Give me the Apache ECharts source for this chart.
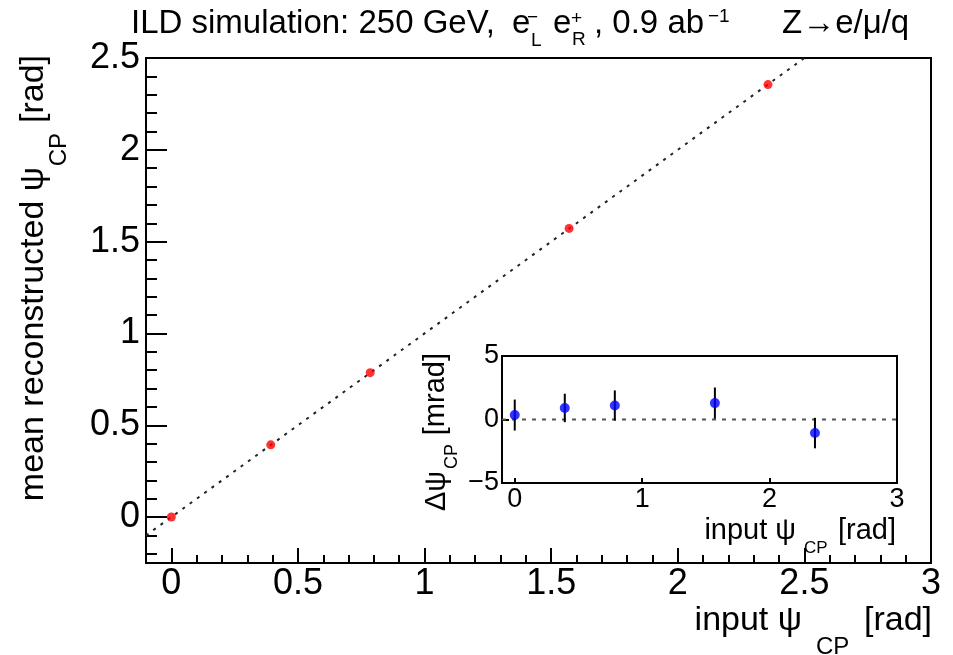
<!DOCTYPE html>
<html>
<head>
<meta charset="utf-8">
<script src="https://cdn.jsdelivr.net/npm/echarts@6/dist/echarts.min.js"></script>
<style>
  html, body { margin: 0; padding: 0; background: #fff; }
  #chart { width: 953px; height: 655px; }
</style>
</head>
<body>
<div id="chart"></div>
<script>
// Input CP-mixing angles (rad) and mean reconstructed values (rad)
const psiIn = [0, 0.3927, 0.7854, 1.5708, 2.3562];
const psiRecoMean = [0.0004, 0.3936, 0.7865, 1.5721, 2.3551];

// Residuals (reco - input) in mrad, with their uncertainties
const deltaPsi = [0.35, 0.91, 1.10, 1.29, -1.07];
const deltaErr = [1.22, 1.12, 1.19, 1.23, 1.20];

// Reference lines: diagonal y = x and zero residual
const diagX = [-0.1, 2.5];
const diagY = [-0.1, 2.5];
const zeroX = [-0.1, 3];
const zeroY = [0, 0];

// Tick positions
const mainXMajor = [0, 0.5, 1, 1.5, 2, 2.5, 3];
const mainXMinor = [-0.1, 0.1, 0.2, 0.3, 0.4, 0.6, 0.7, 0.8, 0.9, 1.1, 1.2, 1.3, 1.4,
  1.6, 1.7, 1.8, 1.9, 2.1, 2.2, 2.3, 2.4, 2.6, 2.7, 2.8, 2.9];
const mainYMajor = [0, 0.5, 1, 1.5, 2, 2.5];
const mainYMinor = [-0.2, -0.1, 0.1, 0.2, 0.3, 0.4, 0.6, 0.7, 0.8, 0.9, 1.1, 1.2, 1.3, 1.4,
  1.6, 1.7, 1.8, 1.9, 2.1, 2.2, 2.3, 2.4];
const insetXMajor = [0, 1, 2, 3];
const insetYMajor = [-5, 0, 5];

const FONT = '"Liberation Sans", Arial, Helvetica, sans-serif';
const fmt = v => String(v).replace('-', '\u2212');

function txt(text, x, y, size, align, rot) {
  return {
    type: 'text', x: x, y: y, rotation: rot || 0, z: 100,
    style: {
      text: text, fontSize: size, fontFamily: FONT, fill: '#000',
      align: align, textAlign: align,
      verticalAlign: 'middle', textVerticalAlign: 'middle'
    }
  };
}

const R = Math.PI / 2;
const titleParts = [
  // header line
  txt('ILD simulation: 250 GeV,', 131, 24, 33, 'left'),
  txt('e', 512, 24, 33, 'left'),
  txt('\u2212', 527, 18, 19, 'left'),
  txt('L', 531, 41, 19, 'left'),
  txt('e', 553, 24, 33, 'left'),
  txt('+', 571, 19, 19, 'left'),
  txt('R', 572, 40, 19, 'left'),
  txt(', 0.9 ab', 594, 24, 33, 'left'),
  txt('\u22121', 708, 17, 19, 'left'),
  txt('Z\u2192e/\u03bc/q', 782, 24, 33, 'left'),
  // main x title
  txt('input \u03c8', 802, 621, 34, 'right'),
  txt('CP', 816, 647, 24, 'left'),
  txt('[rad]', 932, 621, 34, 'right'),
  // main y title (rotated, reading upwards)
  txt('[rad]', 34, 55, 34, 'right', R),
  txt('CP', 59, 133, 24, 'right', R),
  txt('mean reconstructed \u03c8', 34, 167, 34, 'right', R),
  // inset x title
  txt('input \u03c8', 796, 531, 29, 'right'),
  txt('CP', 804, 548, 17, 'left'),
  txt('[rad]', 896, 531, 29, 'right'),
  // inset y title (rotated)
  txt('[mrad]', 436, 353, 29, 'right', R),
  txt('CP', 452, 444, 18, 'right', R),
  txt('\u0394\u03c8', 437, 471, 29, 'right', R)
];

function valueAxis(extra) {
  return Object.assign({
    type: 'value',
    axisLine: { show: true, onZero: false, lineStyle: { color: '#000', width: 2 } },
    splitLine: { show: false }
  }, extra);
}

const option = {
  animation: false,
  backgroundColor: '#fff',
  grid: [
    { left: 146, top: 58, width: 785, height: 505, show: true, borderColor: '#000', borderWidth: 2, backgroundColor: 'transparent' },
    { left: 502, top: 356, width: 395, height: 127, show: true, borderColor: '#000', borderWidth: 2, backgroundColor: 'transparent' }
  ],
  xAxis: [
    valueAxis({ gridIndex: 0, position: 'bottom', min: -0.1, max: 3,
      axisTick: { show: true, inside: true, length: 15, customValues: mainXMajor, lineStyle: { color: '#000', width: 2 } },
      axisLabel: { show: true, margin: 3, customValues: mainXMajor, formatter: fmt, fontSize: 36, fontFamily: FONT, color: '#000' } }),
    valueAxis({ gridIndex: 0, position: 'bottom', min: -0.1, max: 3,
      axisTick: { show: true, inside: true, length: 8, customValues: mainXMinor, lineStyle: { color: '#000', width: 2 } },
      axisLabel: { show: false } }),
    valueAxis({ gridIndex: 1, position: 'bottom', min: -0.1, max: 3,
      axisTick: { show: true, inside: true, length: 5, customValues: insetXMajor, lineStyle: { color: '#000', width: 2 } },
      axisLabel: { show: true, margin: 3, customValues: insetXMajor, formatter: fmt, fontSize: 27, fontFamily: FONT, color: '#000' } })
  ],
  yAxis: [
    valueAxis({ gridIndex: 0, position: 'left', min: -0.25, max: 2.5,
      axisTick: { show: true, inside: true, length: 21, customValues: mainYMajor, lineStyle: { color: '#000', width: 2 } },
      axisLabel: { show: true, margin: 6, customValues: mainYMajor, formatter: fmt, fontSize: 36, fontFamily: FONT, color: '#000' } }),
    valueAxis({ gridIndex: 0, position: 'left', min: -0.25, max: 2.5,
      axisTick: { show: true, inside: true, length: 11, customValues: mainYMinor, lineStyle: { color: '#000', width: 2 } },
      axisLabel: { show: false } }),
    valueAxis({ gridIndex: 1, position: 'left', min: -5, max: 5,
      axisTick: { show: true, inside: true, length: 7, customValues: insetYMajor, lineStyle: { color: '#000', width: 2 } },
      axisLabel: { show: true, margin: 3, customValues: insetYMajor, formatter: fmt, fontSize: 27, fontFamily: FONT, color: '#000' } })
  ],
  series: [
    {
      name: 'diagonal', type: 'line', xAxisIndex: 0, yAxisIndex: 0,
      data: diagX.map((x, i) => [x, diagY[i]]),
      showSymbol: false, silent: true, z: 2,
      lineStyle: { color: '#222', width: 2, type: [3, 6] }
    },
    {
      name: 'mean reco', type: 'scatter', xAxisIndex: 0, yAxisIndex: 0,
      data: psiIn.map((x, i) => [x, psiRecoMean[i]]),
      symbol: 'circle', symbolSize: 9, z: 5,
      itemStyle: { color: '#ff0000' }
    },
    {
      name: 'zero', type: 'line', xAxisIndex: 2, yAxisIndex: 2,
      data: zeroX.map((x, i) => [x, zeroY[i]]),
      showSymbol: false, silent: true, z: 2,
      lineStyle: { color: '#555', width: 2, type: [4, 6] }
    },
    {
      name: 'residual error', type: 'custom', xAxisIndex: 2, yAxisIndex: 2, z: 4,
      data: psiIn.map((x, i) => [x, deltaPsi[i], deltaErr[i]]),
      renderItem: function (params, api) {
        const x = api.value(0), y = api.value(1), e = api.value(2);
        const lo = api.coord([x, y - e]);
        const hi = api.coord([x, y + e]);
        return {
          type: 'line',
          shape: { x1: lo[0], y1: lo[1], x2: hi[0], y2: hi[1] },
          style: { stroke: '#000', lineWidth: 2 }
        };
      }
    },
    {
      name: 'residual', type: 'scatter', xAxisIndex: 2, yAxisIndex: 2,
      data: psiIn.map((x, i) => [x, deltaPsi[i]]),
      symbol: 'circle', symbolSize: 10, z: 6,
      itemStyle: { color: '#0000ff' }
    }
  ],
  graphic: titleParts
};

const chart = echarts.init(document.getElementById('chart'), null, { renderer: 'canvas' });
chart.setOption(option);
</script>
</body>
</html>
